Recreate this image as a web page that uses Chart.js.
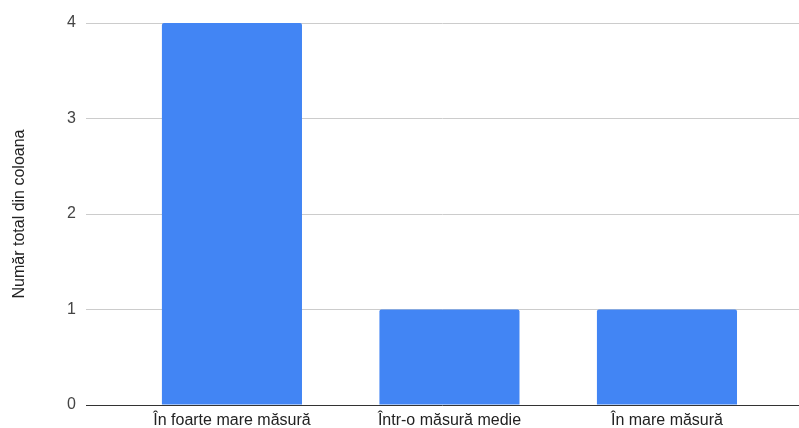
<!DOCTYPE html>
<html>
<head>
<meta charset="utf-8">
<script src="https://cdn.jsdelivr.net/npm/chart.js@4"></script>
<style>
    html, body { margin: 0; padding: 0; background: #fff; }
    #wrap { width: 799px; height: 428px; }
</style>
</head>
<body>
<div id="wrap"><canvas id="chart"></canvas></div>
<script>
// Chart data
const categories = ['În foarte mare măsură', 'Într-o măsură medie', 'În mare măsură'];
const values = [4, 1, 1];
const yTicks = [0, 1, 2, 3, 4];
const yTitle = 'Număr total din coloana';

const textFont = { family: '"Liberation Sans", Arial, sans-serif', size: 16 };

const points = categories.map(function(c, i) {
    return { x: i, y: values[i] };
});

new Chart(document.getElementById('chart'), {
    type: 'bar',
    data: {
        datasets: [{
            data: points,
            backgroundColor: '#4285F4',
            borderRadius: { topLeft: 2, topRight: 2 },
            borderSkipped: 'bottom',
            barPercentage: 0.644,
            categoryPercentage: 1
        }]
    },
    options: {
        responsive: true,
        maintainAspectRatio: false,
        animation: false,
        layout: { padding: { top: 23, right: 0, left: 0, bottom: 0 } },
        plugins: {
            legend: { display: false },
            tooltip: { enabled: false }
        },
        scales: {
            x: {
                type: 'linear',
                min: -0.671,
                max: 2.607,
                offset: false,
                afterBuildTicks: function(scale) {
                    scale.ticks = categories.map(function(c, i) { return { value: i }; });
                },
                afterFit: function(scale) { scale.height = 23; },
                grid: { display: false, drawTicks: false },
                border: { display: false },
                ticks: {
                    autoSkip: false,
                    maxRotation: 0,
                    padding: 6,
                    color: '#222',
                    font: textFont,
                    callback: function(v) { return categories[v]; }
                }
            },
            y: {
                min: 0,
                max: 4,
                afterBuildTicks: function(scale) {
                    scale.ticks = yTicks.map(function(v) { return { value: v }; });
                },
                afterFit: function(scale) { scale.width = 86; },
                border: { display: false },
                grid: {
                    drawTicks: false,
                    color: function(ctx) { return ctx.tick && ctx.tick.value === 0 ? '#333' : '#ccc'; }
                },
                ticks: {
                    padding: 10,
                    color: '#444',
                    font: textFont
                },
                title: {
                    display: true,
                    text: yTitle,
                    color: '#222',
                    font: textFont,
                    padding: { top: 10, bottom: 0 }
                }
            }
        }
    }
});
</script>
</body>
</html>
